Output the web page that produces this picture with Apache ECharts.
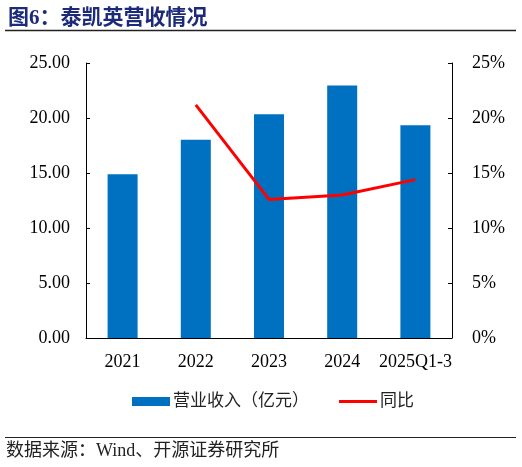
<!DOCTYPE html>
<html>
<head>
<meta charset="utf-8">
<script src="https://cdn.jsdelivr.net/npm/echarts@6/dist/echarts.min.js"></script>
<style>
  html, body { margin: 0; padding: 0; background: #fff; }
  #chart { width: 522px; height: 467px; }
</style>
</head>
<body>
<div id="chart"></div>
<script>
var categories = ['2021', '2022', '2023', '2024', '2025Q1-3'];
var revenue = [14.88, 18.02, 20.33, 22.96, 19.35];      // 营业收入（亿元）
var yoy = [null, 21.2, 12.6, 13.0, 14.4];                // 同比 %
var leftTicks = [0, 25, 5];
var rightTicks = [0, 25, 5];

var fontLatin = '"Liberation Serif", "Times New Roman", "Noto Sans CJK SC", serif';

var chart = echarts.init(document.getElementById('chart'));
chart.setOption({
  animation: false,
  title: {
    text: '图6：泰凯英营收情况',
    left: 3,
    top: 3,
    textStyle: {
      fontSize: 21,
      fontWeight: 'bold',
      color: '#1c2a7a',
      fontFamily: '"Liberation Serif", "Noto Sans CJK SC", serif'
    }
  },
  graphic: [
    { type: 'line', shape: { x1: 5, y1: 30.5, x2: 516, y2: 30.5 }, style: { stroke: '#222', lineWidth: 1.5 } },
    { type: 'line', shape: { x1: 5, y1: 437.5, x2: 516, y2: 437.5 }, style: { stroke: '#222', lineWidth: 1 } },
    {
      type: 'text', left: 6, top: 442,
      style: { text: '数据来源：Wind、开源证券研究所', fontSize: 18, fill: '#222', fontFamily: fontLatin }
    }
  ],
  legend: {
    left: 127,
    top: 388,
    itemWidth: 38,
    itemHeight: 9,
    itemGap: 30,
    textStyle: { fontSize: 17, color: '#222', fontFamily: fontLatin, padding: [0, 0, 0, -2] },
    data: [
      { name: '营业收入（亿元）', icon: 'rect' },
      {
        name: '同比',
        icon: 'path://M0,0L0,0M0,3L40,3L40,6L0,6ZM40,9L40,9',
        itemStyle: { color: '#ff0000', borderWidth: 0 }
      }
    ]
  },
  grid: { left: 86, right: 70, top: 63, bottom: 129 },
  xAxis: {
    type: 'category',
    data: categories,
    axisLine: { lineStyle: { color: '#000', width: 1 } },
    axisTick: { inside: true, length: 4, lineStyle: { color: '#000' } },
    axisLabel: { interval: 0, fontSize: 18, color: '#000', margin: 15, fontFamily: fontLatin }
  },
  yAxis: [
    {
      type: 'value',
      min: leftTicks[0], max: leftTicks[1], interval: leftTicks[2],
      axisLine: { show: true, lineStyle: { color: '#000' } },
      axisTick: { show: true, inside: true, length: 4, lineStyle: { color: '#000' } },
      splitLine: { show: false },
      axisLabel: {
        fontSize: 18, color: '#000', margin: 16, fontFamily: fontLatin,
        formatter: function (v) { return v.toFixed(2); }
      }
    },
    {
      type: 'value',
      min: rightTicks[0], max: rightTicks[1], interval: rightTicks[2],
      axisLine: { show: true, lineStyle: { color: '#000' } },
      axisTick: { show: true, inside: true, length: 4, lineStyle: { color: '#000' } },
      splitLine: { show: false },
      axisLabel: { fontSize: 18, color: '#000', margin: 20, fontFamily: fontLatin, formatter: '{value}%' }
    }
  ],
  series: [
    {
      name: '营业收入（亿元）',
      type: 'bar',
      data: revenue,
      barWidth: 30,
      itemStyle: { color: '#0070c0' }
    },
    {
      name: '同比',
      type: 'line',
      yAxisIndex: 1,
      data: yoy,
      symbol: 'none',
      lineStyle: { color: '#ff0000', width: 3 },
      itemStyle: { color: '#ff0000' }
    }
  ]
});
</script>
</body>
</html>
